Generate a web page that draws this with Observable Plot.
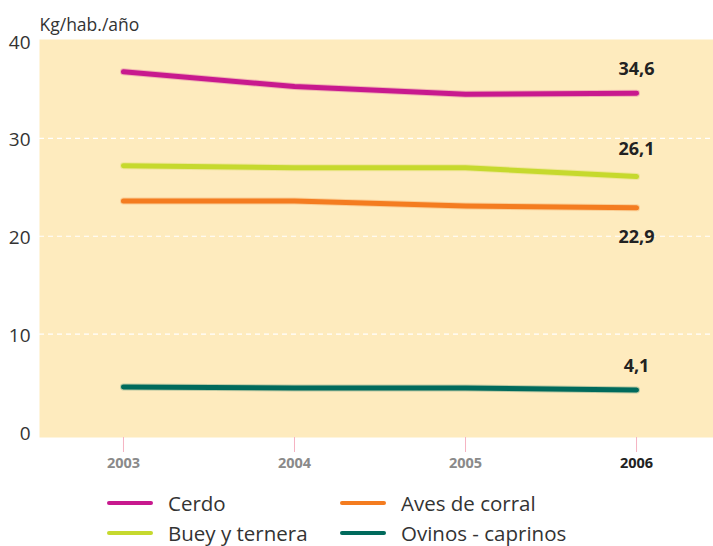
<!DOCTYPE html>
<html><head><meta charset="utf-8">
<script src="https://cdn.jsdelivr.net/npm/d3@7"></script>
<script src="https://cdn.jsdelivr.net/npm/@observablehq/plot@0.6"></script>
<style>
body{margin:0;background:#fff;font-family:"Open Sans",sans-serif;}
#wrap{position:relative;width:713px;height:546px;}
#legend{position:relative;width:713px;height:66px;}
.li{position:absolute;display:flex;align-items:center;font-size:20.5px;color:#333;}
.sw{width:46px;height:4px;border-radius:2px;margin-right:15px;}
</style></head>
<body><div id="wrap"><div id="chart"></div><div id="legend"></div></div>
<script>
const years = [2003, 2004, 2005, 2006];
const seriesNames = ["Cerdo", "Buey y ternera", "Aves de corral", "Ovinos - caprinos"];
const cerdo = [36.8, 35.3, 34.5, 34.6];
const buey = [27.2, 27.0, 27.0, 26.1];
const aves = [23.6, 23.6, 23.1, 22.9];
const ovinos = [4.6, 4.5, 4.5, 4.3];
const endLabels = ["34,6", "26,1", "22,9", "4,1"];
const yTicks = [0, 10, 20, 30, 40];
const colors = ["#c8198e", "#c6d92e", "#f47c20", "#006a5c"];

const values = [cerdo, buey, aves, ovinos];
const data = seriesNames.flatMap((s, i) => years.map((y, j) => ({series: s, year: y, value: values[i][j]})));
const last = seriesNames.map((s, i) => ({series: s, year: years[3], value: values[i][3], label: endLabels[i]}));
const dyFor = {"Cerdo": -24, "Buey y ternera": -27, "Aves de corral": 29, "Ovinos - caprinos": -24};

const chart = Plot.plot({
  width: 713, height: 480,
  marginLeft: 39, marginRight: 0, marginTop: 39, marginBottom: 43,
  style: {fontFamily: "'Open Sans', sans-serif", background: "transparent"},
  x: {domain: [2002.509, 2006.45]},
  y: {domain: [-0.56, 40.1]},
  color: {domain: seriesNames, range: colors},
  marks: [
    Plot.frame({fill: "#feebbe", stroke: null}),
    Plot.gridY([10, 20, 30], {stroke: "#ffffff", strokeOpacity: 1, strokeWidth: 1.2, strokeDasharray: "5,4"}),
    Plot.axisY({ticks: yTicks, tickSize: 0, tickPadding: 9, fontSize: 19, fill: "#333", label: null, dy: 2}),
    Plot.axisX({ticks: years.slice(0, 3), tickFormat: d => String(d), tickSize: 15, tickPadding: 5, stroke: "#f5b3c2", fill: "#8a8a8a", fontSize: 14.5, fontWeight: "bold", label: null}),
    Plot.axisX({ticks: years.slice(3), tickFormat: d => String(d), tickSize: 15, tickPadding: 5, stroke: "#f5b3c2", fill: "#222", fontSize: 14.5, fontWeight: "bold", label: null}),
    ...seriesNames.map(s => Plot.line(data.filter(d => d.series === s), {x: "year", y: "value", stroke: "series", strokeWidth: 7, strokeOpacity: 0.25, strokeLinecap: "round"})),
    ...seriesNames.map(s => Plot.line(data.filter(d => d.series === s), {x: "year", y: "value", stroke: "series", strokeWidth: 5, strokeLinecap: "round", strokeLinejoin: "round"})),
    ...last.map(d => Plot.text([d], {x: "year", y: "value", text: "label", dy: dyFor[d.series], fontSize: 18, fontWeight: "bold", fill: "#222"})),
    Plot.text(["Kg/hab./año"], {frameAnchor: "top-left", dy: -21, textAnchor: "start", fontSize: 17.5, fill: "#333"})
  ]
});
document.getElementById("chart").appendChild(chart);

const pos = [[107, 23], [107, 53], [340, 23], [340, 53]];
const order = ["Cerdo", "Buey y ternera", "Aves de corral", "Ovinos - caprinos"];
const legend = document.getElementById("legend");
order.forEach((s, k) => {
  const i = seriesNames.indexOf(s);
  const el = document.createElement("div");
  el.className = "li";
  el.style.left = pos[k][0] + "px";
  el.style.top = (pos[k][1] - 14) + "px";
  el.style.height = "28px";
  el.innerHTML = `<span class="sw" style="background:${colors[i]}"></span><span>${s}</span>`;
  legend.appendChild(el);
});
</script></body></html>
